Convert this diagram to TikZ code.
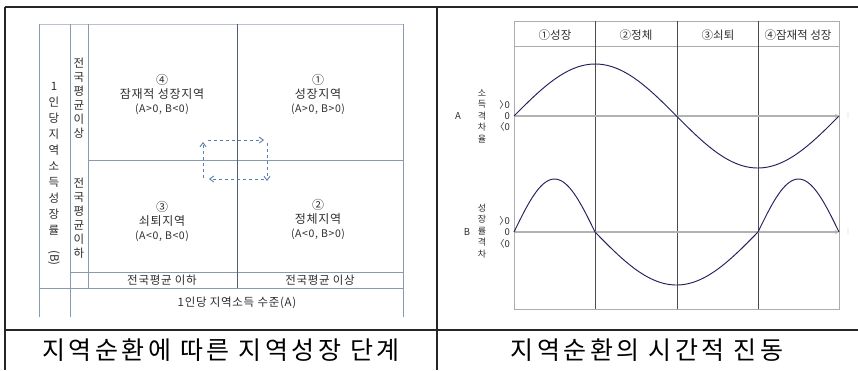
\documentclass[tikz,border=0pt]{standalone}
\usepackage{fontspec}
\setmainfont{Noto Sans CJK KR}
\newfontfamily\dejavu{DejaVu Sans}
\newfontfamily\capfont[LetterSpace=14]{Noto Sans CJK KR}
\newfontfamily\wide[LetterSpace=6]{Noto Sans CJK KR}
\usetikzlibrary{arrows.meta}
\definecolor{gridc}{HTML}{8A9AAE}
\definecolor{midc}{HTML}{4F5F7A}
\definecolor{dashc}{HTML}{5B7DB3}
\definecolor{curvec}{HTML}{22225E}
\definecolor{txtc}{HTML}{2E2E2E}
\newcommand{\gtz}{〉\kern-0.45em 0}
\newcommand{\ltz}{〈0}
\tikzset{
  tablerule/.style={line width=1.5pt, black!85},
  gridline/.style={gridc, line width=0.7pt},
  vlabel/.style={align=center, inner sep=0pt, text=txtc},
  qtext/.style={align=center, inner sep=0pt, text=txtc, font=\wide\fontsize{12}{14}\selectfont},
  rowlabel/.style={inner sep=0pt, text=txtc, font=\wide\fontsize{11.5}{13}\selectfont},
  dasharrow/.style={dashc, dashed, line width=0.9pt, -{Straight Barb[length=4pt,width=6pt]}},
  chartframe/.style={gray!65, line width=0.8pt},
  divider/.style={black!70, line width=0.8pt},
  axisline/.style={gray!60, line width=1.4pt, -{Stealth[length=4pt,width=4pt]}},
  curve/.style={curvec, line width=0.95pt},
  hdr/.style={inner sep=0pt, text=txtc, font=\fontsize{11.5}{13}\selectfont},
  small/.style={inner sep=0pt, text=txtc, font=\fontsize{9.5}{11}\selectfont},
  caption/.style={inner sep=0pt, font=\capfont\fontsize{25}{28}\selectfont},
}
\begin{document}
\begin{tikzpicture}[x=1pt,y=-1pt]
\useasboundingbox (0,0) rectangle (858,370);
\fill[white] (0,0) rectangle (858,370);

% ---------- outer table ----------
\draw[tablerule] (5,7) -- (858,7);
\draw[tablerule] (5,7) -- (5,370);
\draw[tablerule] (437,7) -- (437,370);
\draw[tablerule] (5,330) -- (858,330);

% ---------- left panel grid ----------
\draw[gridline, gridc!60] (39,24) -- (403,24);
\draw[gridline] (39,24) -- (39,317);
\draw[gridline] (70,24) -- (70,317);
\draw[gridline] (88,24) -- (88,288);
\draw[gridline] (403,24) -- (403,317);
\draw[gridline] (88,160) -- (403,160);
\draw[gridline] (70,272) -- (403,272);
\draw[gridline] (39,288) -- (403,288);
\draw[midc, line width=0.7pt] (237,24) -- (237,288);

% vertical labels
\node[vlabel, font=\fontsize{11.5}{16}\selectfont] (ylab) at (54,174)
  {1\\인\\당\\지\\역\\소\\득\\성\\장\\률\\\rotatebox{-90}{(B)}};
\node[vlabel, font=\fontsize{11.5}{14}\selectfont] (hi) at (79,98)
  {전\\국\\평\\균\\이\\상};
\node[vlabel, font=\fontsize{11.5}{14}\selectfont] (lo) at (79,218)
  {전\\국\\평\\균\\이\\하};

% quadrant texts
\node[qtext] (q4) at (162,94) {④\\잠재적 성장지역\\{\fontsize{10.5}{12}\selectfont(A>0, B<0)}};
\node[qtext] (q1) at (318,94) {①\\성장지역\\{\fontsize{10.5}{12}\selectfont(A>0, B>0)}};
\node[qtext] (q3) at (162,221) {③\\쇠퇴지역\\{\fontsize{10.5}{12}\selectfont(A<0, B<0)}};
\node[qtext] (q2) at (318,219) {②\\정체지역\\{\fontsize{10.5}{12}\selectfont(A<0, B>0)}};

% bottom row labels
\node[rowlabel] (xlo) at (162,280) {전국평균 이하};
\node[rowlabel] (xhi) at (320,280) {전국평균 이상};
\node[rowlabel] (xlab) at (237,303) {1인당 지역소득 수준(A)};

% dashed cycle arrows
\coordinate (c1) at (203,178);
\coordinate (c2) at (203,142);
\coordinate (c3) at (208,140);
\coordinate (c4) at (264,140);
\coordinate (c5) at (267,143);
\coordinate (c6) at (267,181);
\coordinate (c7) at (264,179);
\coordinate (c8) at (209,179);
\draw[dasharrow] (c1) -- (c2);
\draw[dasharrow] (c3) -- (c4);
\draw[dasharrow] (c5) -- (c6);
\draw[dasharrow] (c7) -- (c8);

% ---------- right panel ----------
\draw[chartframe] (514,21) rectangle (839,309);
\draw[chartframe] (514,46) -- (839,46);
\draw[divider] (595,21) -- (595,309);
\draw[divider] (677,21) -- (677,309);
\draw[divider] (758,21) -- (758,309);

\node[hdr] (h1) at (555,35) {①성장};
\node[hdr] (h2) at (636,35) {②정체};
\node[hdr] (h3) at (718,35) {③쇠퇴};
\node[hdr] (h4) at (798,35) {④잠재적 성장};

% axes
\coordinate (a0) at (514,116);
\coordinate (a1) at (839,116);
\coordinate (b0) at (514,232);
\coordinate (b1) at (839,232);
\draw[axisline] (a0) -- (a1);
\draw[axisline] (b0) -- (b1);

% curves
\draw[curve] plot[domain=0:325, samples=120, smooth] ({514+\x},{116-52*sin(\x/325*360)});
\draw[curve] plot[domain=0:81, samples=40, smooth] ({514+\x},{232-53*sin(\x/81*180)});
\draw[curve] plot[domain=0:163, samples=60, smooth] ({595+\x},{232+53*sin(\x/163*180)});
\draw[curve] plot[domain=0:81, samples=40, smooth] ({758+\x},{232-53*sin(\x/81*180)});

% axis labels
\node[small] (A) at (458,116) {A};
\node[vlabel, font=\fontsize{9}{11.5}\selectfont] (Alab) at (482,116) {소\\득\\격\\차\\율};
\node[small, anchor=east] (Ap) at (510,105) {\gtz};
\node[small, anchor=east] (Az) at (510,116) {0};
\node[small, anchor=east] (An) at (510,127) {\ltz};

\node[small] (B) at (467,232) {B};
\node[vlabel, font=\fontsize{9}{11.5}\selectfont] (Blab) at (482,231) {성\\장\\률\\격\\차};
\node[small, anchor=east] (Bp) at (510,221) {\gtz};
\node[small, anchor=east] (Bz) at (510,232) {0};
\node[small, anchor=east] (Bn) at (510,244) {\ltz};

\node[inner sep=0pt, text=gray!70, font=\dejavu\fontsize{6}{7}\selectfont] (da) at (848,116) {⋮};
\node[inner sep=0pt, text=gray!70, font=\dejavu\fontsize{6}{7}\selectfont] (db) at (848,232) {⋮};

% ---------- captions ----------
\node[caption] (cap1) at (221,350) {지역순환에 따른 지역성장 단계};
\node[caption] (cap2) at (647,350) {지역순환의 시간적 진동};
\end{tikzpicture}
\end{document}
